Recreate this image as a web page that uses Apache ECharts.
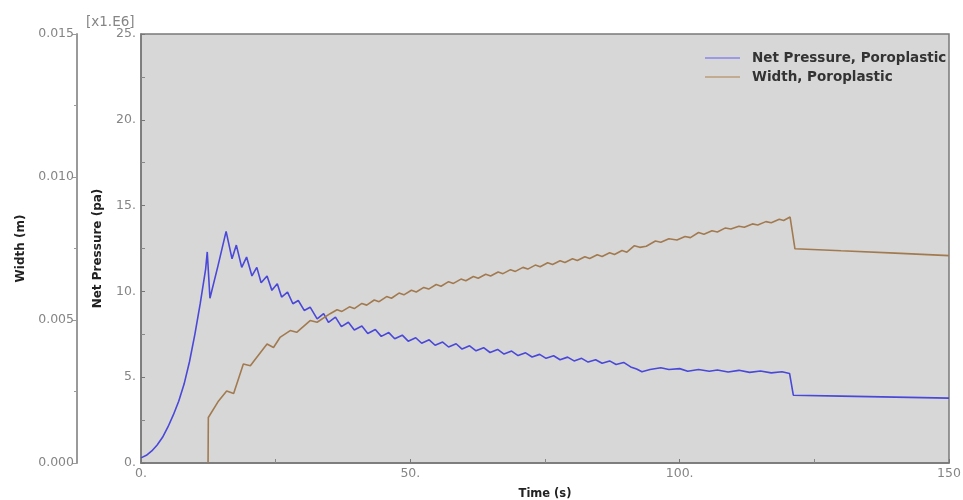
<!DOCTYPE html>
<html>
<head>
<meta charset="utf-8">
<script src="https://cdn.jsdelivr.net/npm/echarts@6/dist/echarts.min.js"></script>
<style>
  html, body { margin: 0; padding: 0; background: #ffffff; }
  #chart { width: 963px; height: 500px; }
</style>
</head>
<body>
<div id="chart"></div>
<script>
// Net pressure history [time (s), pressure (x1e6 Pa)]
const pressurePoints = [
  [0, 0.3], [1, 0.45], [2, 0.7], [3, 1.05], [4, 1.5], [5, 2.1], [6, 2.8], [7, 3.6],
  [8, 4.6], [9, 5.9], [10, 7.5], [11, 9.3], [12, 11.3], [12.3, 12.3], [12.8, 9.6],
  [14.3, 11.5], [15.8, 13.5],
  [16.9, 11.9], [17.7, 12.7], [18.7, 11.4], [19.6, 12.0], [20.6, 10.9], [21.5, 11.4],
  [22.3, 10.5], [23.4, 10.9], [24.3, 10.06], [25.3, 10.45], [26.1, 9.67], [27.2, 9.96],
  [28.2, 9.28], [29.2, 9.47], [30.3, 8.89], [31.4, 9.08], [32.7, 8.4], [33.9, 8.7],
  [34.8, 8.2], [36.1, 8.5],
  [37.2, 7.95], [38.5, 8.2], [39.6, 7.75], [41.0, 7.98], [42.1, 7.55], [43.5, 7.78],
  [44.6, 7.38], [46.0, 7.6], [47.1, 7.24], [48.5, 7.45], [49.6, 7.1], [51.0, 7.3],
  [52.1, 6.98], [53.5, 7.18], [54.6, 6.86], [56.0, 7.05], [57.1, 6.76], [58.5, 6.95],
  [59.6, 6.64], [61.0, 6.83], [62.2, 6.54], [63.6, 6.72], [64.8, 6.44], [66.2, 6.62],
  [67.4, 6.35], [68.8, 6.52], [70.0, 6.26], [71.4, 6.42], [72.6, 6.18], [74.0, 6.33],
  [75.2, 6.1], [76.6, 6.25], [77.8, 6.02], [79.2, 6.17], [80.4, 5.95], [81.8, 6.1],
  [83.0, 5.88], [84.4, 6.02], [85.6, 5.81], [87.0, 5.95], [88.2, 5.74], [89.6, 5.86],
  [90.9, 5.6], [92.0, 5.48], [93.0, 5.32], [94.5, 5.45], [96.5, 5.55], [98.0, 5.45],
  [100.0, 5.5], [101.5, 5.35], [103.5, 5.45], [105.5, 5.35], [107.0, 5.42], [109.0, 5.3],
  [111.0, 5.4], [113.0, 5.28], [115.0, 5.36], [117.0, 5.25], [119.0, 5.32], [120.4, 5.22],
  [121.1, 3.95], [130, 3.9], [140, 3.84], [150, 3.78]
];

// Fracture width history [time (s), width (m)]
const widthPoints = [
  [12.45, 0], [12.5, 0.00159], [14.4, 0.00217], [15.9, 0.00252], [17.2, 0.00243],
  [19.0, 0.00346], [20.3, 0.0034], [21.5, 0.0037], [23.4, 0.00416], [24.6, 0.00404],
  [25.8, 0.00439], [27.7, 0.00463], [28.9, 0.00457], [31.4, 0.00498], [32.7, 0.00492],
  [35.1, 0.00522],
  [36.4, 0.00536], [37.3, 0.0053], [38.7, 0.00546], [39.6, 0.0054], [41.0, 0.00558],
  [41.9, 0.00552], [43.3, 0.0057], [44.2, 0.00564], [45.6, 0.00582], [46.5, 0.00576],
  [47.9, 0.00594], [48.8, 0.00588], [50.2, 0.00604], [51.1, 0.00598], [52.5, 0.00614],
  [53.4, 0.00608], [54.8, 0.00624], [55.7, 0.00618], [57.1, 0.00634], [58.0, 0.00628],
  [59.4, 0.00643], [60.3, 0.00637], [61.7, 0.00652], [62.6, 0.00646], [64.0, 0.0066],
  [64.9, 0.00654], [66.3, 0.00668], [67.2, 0.00662], [68.6, 0.00676], [69.5, 0.0067],
  [70.9, 0.00684], [71.8, 0.00678], [73.2, 0.00692], [74.1, 0.00686], [75.5, 0.007],
  [76.4, 0.00694], [77.8, 0.00707], [78.7, 0.00701], [80.1, 0.00714], [81.0, 0.00708],
  [82.4, 0.00721], [83.3, 0.00715], [84.7, 0.00728], [85.6, 0.00722], [87.0, 0.00735],
  [87.9, 0.00729], [89.3, 0.00743], [90.2, 0.00737], [91.6, 0.0076], [92.6, 0.00754],
  [93.8, 0.00758], [95.5, 0.00776], [96.5, 0.00772], [98.0, 0.00784], [99.5, 0.0078],
  [101.0, 0.00792], [102.0, 0.00788], [103.5, 0.00806], [104.5, 0.008], [106.0, 0.00812],
  [107.0, 0.00808], [108.5, 0.00822], [109.5, 0.00818], [111.0, 0.00828], [112.0, 0.00824],
  [113.5, 0.00836], [114.5, 0.00832], [116.0, 0.00844], [117.0, 0.0084], [118.5, 0.00852],
  [119.3, 0.00848], [120.5, 0.0086], [121.4, 0.00749], [130, 0.00742], [140, 0.00734],
  [150, 0.00725]
];

// Tick labels
const timeTickLabels = ['0.', '50.', '100.', '150'];
const pressureTickLabels = ['0.', '5.', '10.', '15.', '20.', '25.'];
const widthTickLabels = ['0.000', '0.005', '0.010', '0.015'];

const seriesNames = ['Net Pressure, Poroplastic', 'Width, Poroplastic'];

const FONT = 'DejaVu Sans';
const tickColor = '#858585';
const titleColor = '#222222';
const pressureColor = '#4a48d8';
const widthColor = '#a27a50';

const chart = echarts.init(document.getElementById('chart'), null, { renderer: 'canvas' });

chart.setOption({
  animation: false,
  backgroundColor: '#ffffff',
  grid: {
    left: 141, right: 14, top: 34, bottom: 37,
    outerBoundsMode: 'none',
    containLabel: false,
    show: true,
    backgroundColor: '#d7d7d7',
    borderColor: '#7a7a7a',
    borderWidth: 1.5
  },
  legend: {
    data: [
      { name: seriesNames[0], itemStyle: { color: '#9c9ae6' } },
      { name: seriesNames[1], itemStyle: { color: '#c2ab8e' } }
    ],
    orient: 'vertical',
    left: 700,
    top: 46,
    icon: 'rect',
    itemWidth: 35,
    itemHeight: 2,
    itemGap: 5,
    textStyle: {
      fontFamily: FONT, fontSize: 13.5, fontWeight: 'bold', color: '#333333',
      padding: [0, 0, 0, 7]
    }
  },
  graphic: [{
    type: 'text',
    left: 86,
    top: 15,
    style: { text: '[x1.E6]', font: '13.5px "DejaVu Sans"', fill: tickColor }
  }],
  xAxis: {
    type: 'value',
    min: 0, max: 150, interval: 50,
    name: 'Time (s)',
    nameLocation: 'middle',
    nameGap: 25,
    nameTextStyle: { fontFamily: FONT, fontSize: 11.5, fontWeight: 'bold', color: titleColor },
    axisLine: { show: true, lineStyle: { color: '#777777', width: 1.5 } },
    axisTick: { show: true, inside: true, length: 4, lineStyle: { color: '#777777' } },
    minorTick: { show: true, splitNumber: 2, length: 4, lineStyle: { color: '#888888' } },
    splitLine: { show: false },
    axisLabel: {
      fontFamily: FONT, fontSize: 12.5, color: tickColor, margin: 4,
      formatter: v => timeTickLabels[Math.round(v / 50)]
    }
  },
  yAxis: [{
    type: 'value',
    position: 'left',
    min: 0, max: 25, interval: 5,
    name: 'Net Pressure (pa)',
    nameLocation: 'middle',
    nameGap: 37,
    nameTextStyle: { fontFamily: FONT, fontSize: 12, fontWeight: 'bold', color: titleColor },
    axisLine: { show: true, lineStyle: { color: '#777777', width: 1.5 } },
    axisTick: { show: true, inside: true, length: 4, lineStyle: { color: '#777777' } },
    minorTick: { show: true, splitNumber: 2, length: 4, lineStyle: { color: '#888888' } },
    splitLine: { show: false },
    axisLabel: {
      fontFamily: FONT, fontSize: 12.5, color: tickColor, margin: 5,
      formatter: v => pressureTickLabels[Math.round(v / 5)]
    }
  }, {
    type: 'value',
    position: 'left',
    offset: 64,
    min: 0, max: 0.015, interval: 0.005,
    name: 'Width (m)',
    nameLocation: 'middle',
    nameGap: 50,
    nameTextStyle: { fontFamily: FONT, fontSize: 12, fontWeight: 'bold', color: titleColor },
    axisLine: { show: true, lineStyle: { color: '#9a9a9a', width: 2 } },
    axisTick: { show: true, inside: false, length: 5, lineStyle: { color: '#9a9a9a' } },
    minorTick: { show: true, splitNumber: 2, length: 3, lineStyle: { color: '#9a9a9a' } },
    splitLine: { show: false },
    axisLabel: {
      fontFamily: FONT, fontSize: 12.5, color: tickColor, margin: 3,
      formatter: v => widthTickLabels[Math.round(v / 0.005)]
    }
  }],
  series: [{
    name: seriesNames[0],
    type: 'line',
    yAxisIndex: 0,
    data: pressurePoints,
    symbol: 'none',
    lineStyle: { color: pressureColor, width: 1.6 },
    itemStyle: { color: pressureColor }
  }, {
    name: seriesNames[1],
    type: 'line',
    yAxisIndex: 1,
    data: widthPoints,
    symbol: 'none',
    lineStyle: { color: widthColor, width: 1.6 },
    itemStyle: { color: widthColor }
  }]
});
</script>
</body>
</html>
